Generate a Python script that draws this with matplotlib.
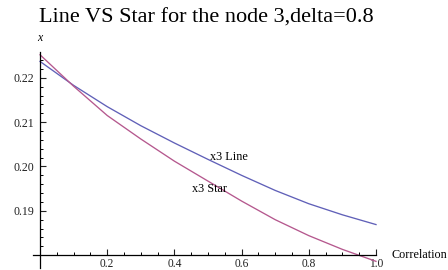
import numpy as np
import matplotlib
matplotlib.use("Agg")
import matplotlib.pyplot as plt
from matplotlib.ticker import FixedLocator, FormatStrFormatter

# values
corr = [0.0, 0.1, 0.2, 0.3, 0.4, 0.5, 0.6, 0.7, 0.8, 0.9, 1.0]
x3_line = [0.2237, 0.2183, 0.2135, 0.2092, 0.2053, 0.2016, 0.1980, 0.1946, 0.1916, 0.1891, 0.1869]
x3_star = [0.2252, 0.2181, 0.2115, 0.2062, 0.2012, 0.1967, 0.1922, 0.1880, 0.1844, 0.1813, 0.1786]

x_major = [0.2, 0.4, 0.6, 0.8, 1.0]
y_major = [0.19, 0.20, 0.21, 0.22]

serif = ["Liberation Serif", "DejaVu Serif"]
plt.rcParams['font.family'] = serif

fig = plt.figure(figsize=(4.48, 2.70), dpi=100)
ax = fig.add_axes([33 / 448, 1 - 268 / 270, (376 - 33) / 448, (268 - 51.7) / 270])

ax.plot(corr, x3_line, color="#6060b8", lw=0.95, clip_on=False)
ax.plot(corr, x3_star, color="#b5588e", lw=0.95, clip_on=False)

ax.set_xlim(-0.021, 1.0)
ax.set_ylim(0.1771, 0.2259)

for s in ["top", "right"]:
    ax.spines[s].set_visible(False)
ax.spines["left"].set_position(("data", 0.0))
ax.spines["bottom"].set_position(("data", 0.18))
ax.spines["left"].set_linewidth(0.9)
ax.spines["bottom"].set_linewidth(0.9)

ax.xaxis.set_major_locator(FixedLocator(x_major))
ax.xaxis.set_minor_locator(FixedLocator(np.arange(0.05, 1.0, 0.05)))
ax.yaxis.set_major_locator(FixedLocator(y_major))
ax.yaxis.set_minor_locator(FixedLocator(np.arange(0.182, 0.226, 0.002)))
ax.xaxis.set_major_formatter(FormatStrFormatter("%.1f"))
ax.yaxis.set_major_formatter(FormatStrFormatter("%.2f"))

ax.tick_params(which="major", direction="in", length=4, width=0.8, labelsize=8.6, pad=4, colors="#222222")
ax.tick_params(which="minor", direction="in", length=2.5, width=0.7)
ax.tick_params(axis="x", which="major", labelsize=8.3, pad=1.8)

ax.text(0.506, 0.2021, "x3 Line", fontsize=8.8, va="center", ha="left")
ax.text(0.453, 0.1949, "x3 Star", fontsize=8.8, va="center", ha="left")

fig.text(39.5 / 448, 1 - 38 / 270, "x", fontsize=8.5, style="italic", ha="center", va="center")
fig.text(391 / 448, 1 - 255 / 270, "Correlation", fontsize=8.7, ha="left", va="center")
fig.text(206 / 448, 1 - 23 / 270, "Line VS Star for the node 3,delta=0.8", fontsize=16,
         ha="center", va="baseline")

fig.savefig("out.png", dpi=100)
